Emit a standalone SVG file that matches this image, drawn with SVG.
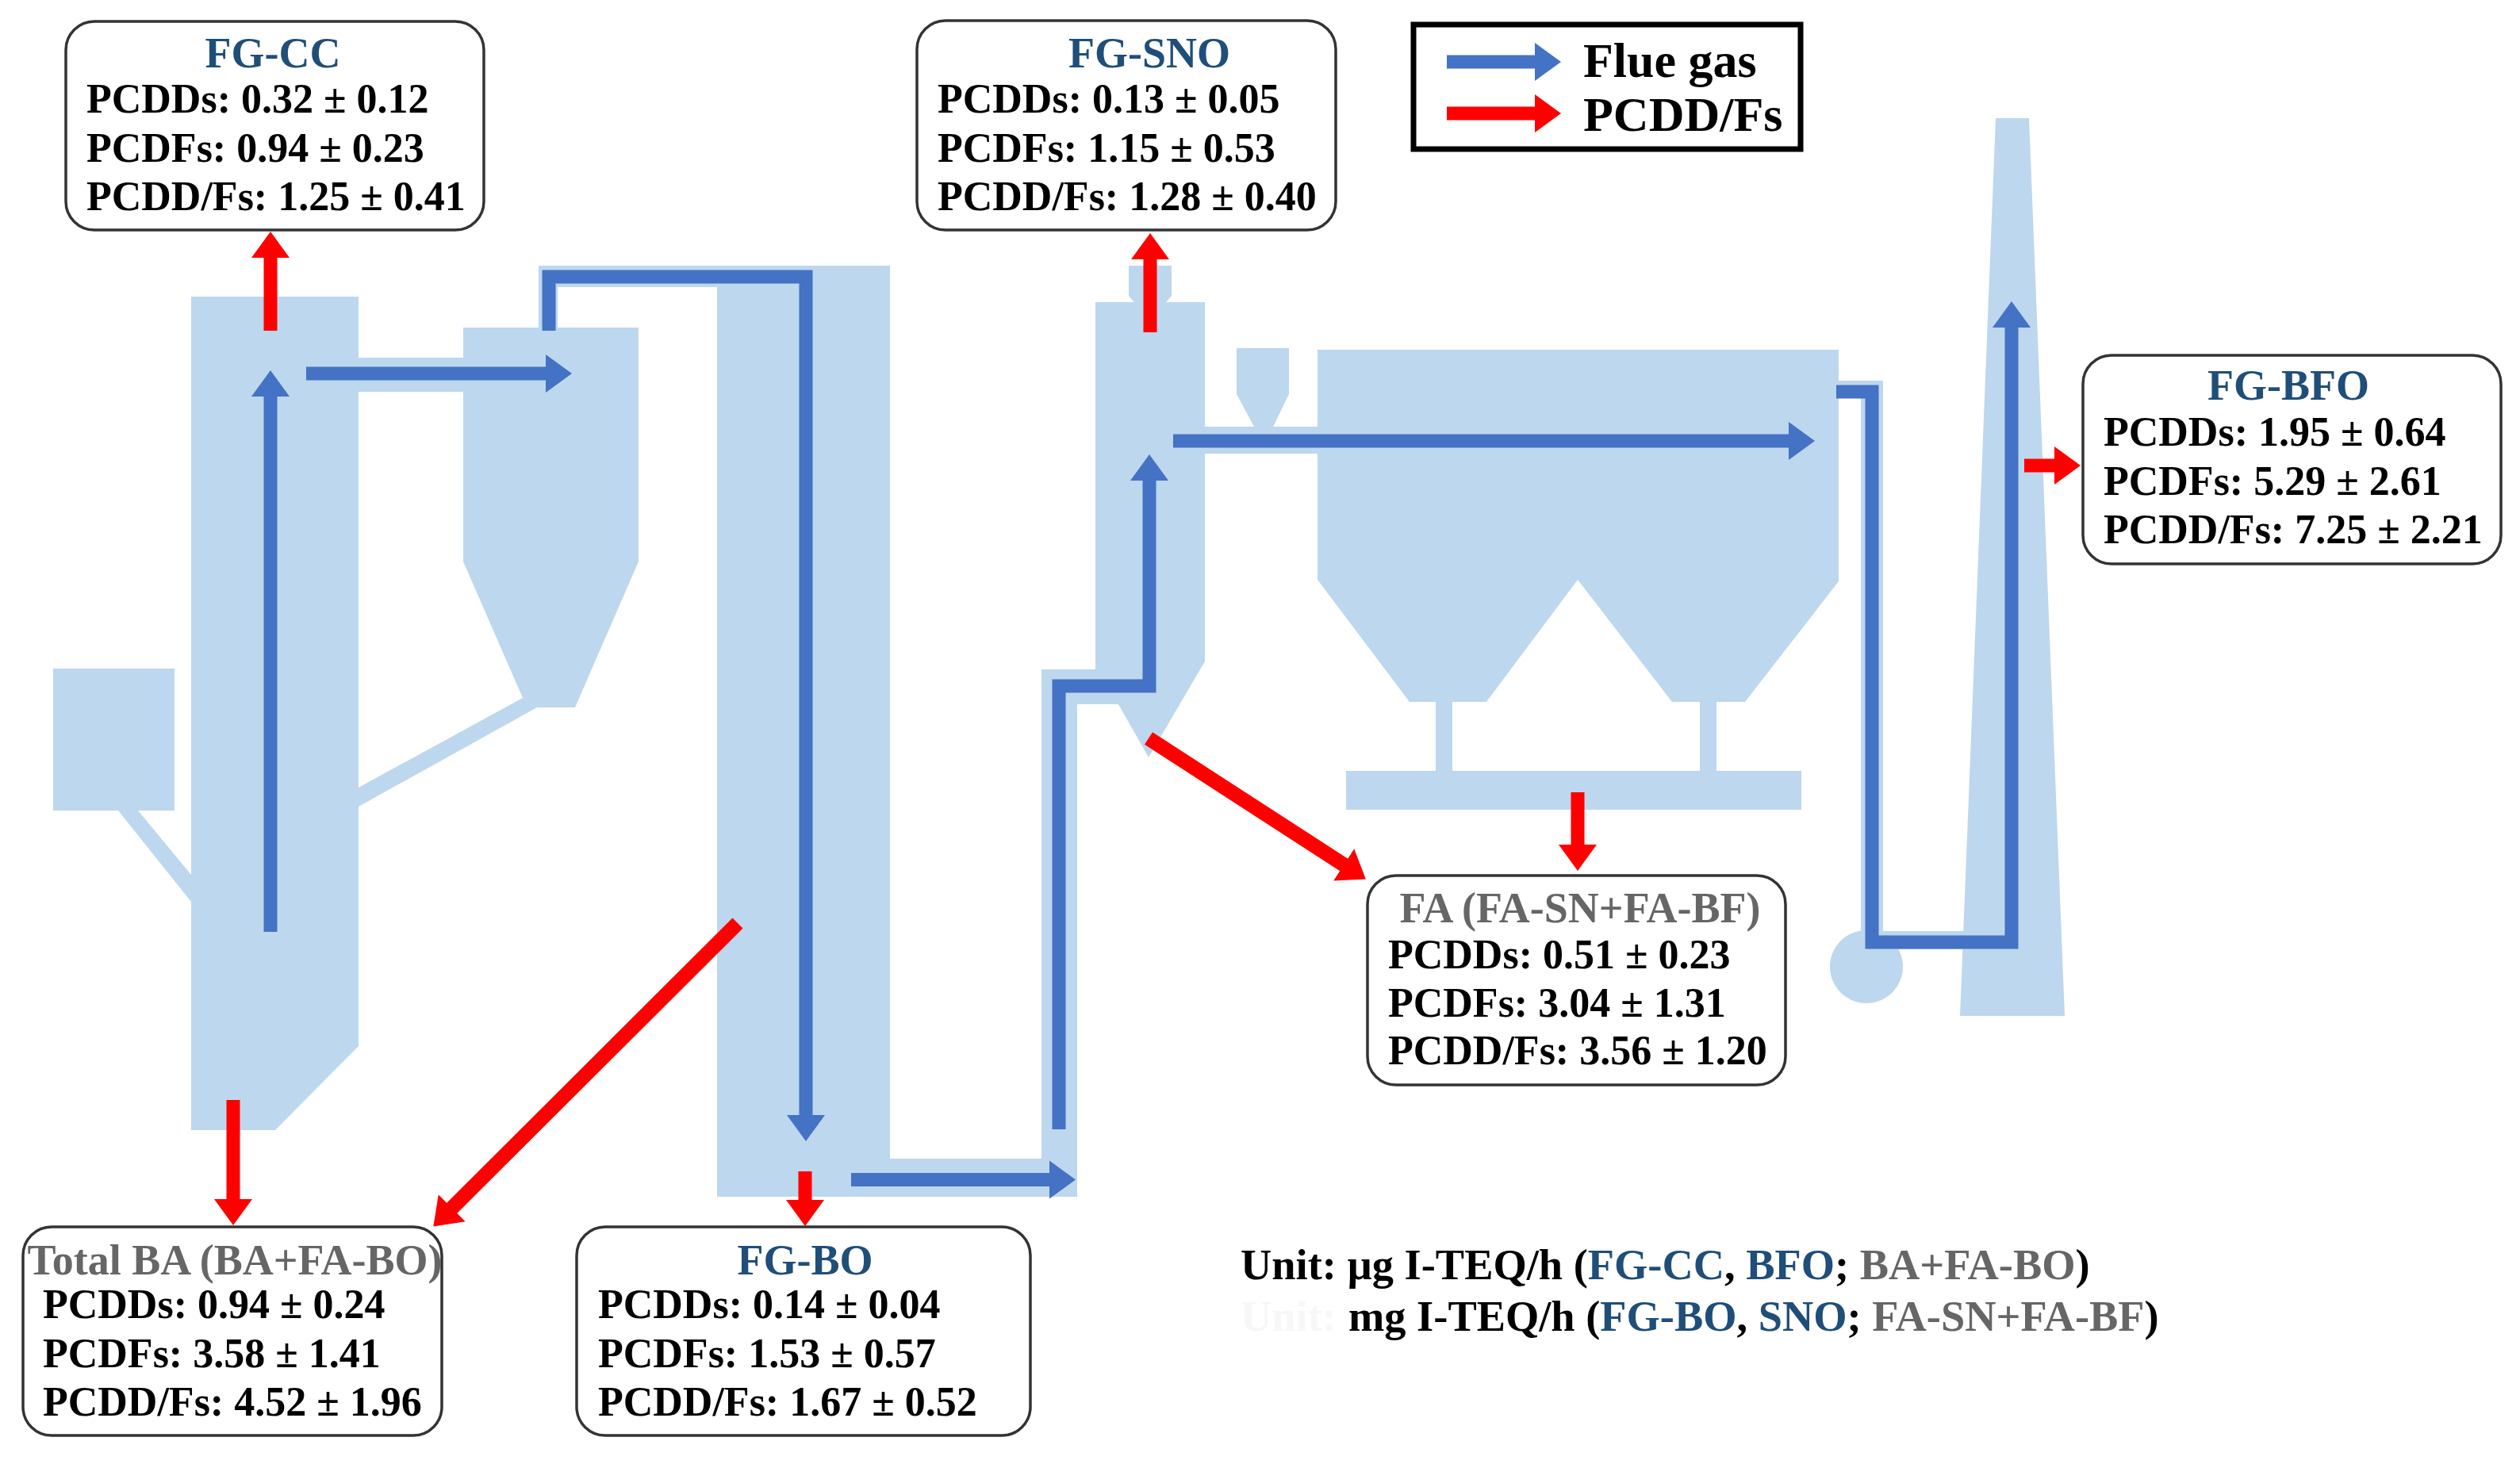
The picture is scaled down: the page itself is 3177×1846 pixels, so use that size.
<svg xmlns="http://www.w3.org/2000/svg" width="3177" height="1846" viewBox="0 0 3177 1846">
<style>
text{font-family:"Liberation Serif","Times New Roman",serif;font-weight:bold;font-size:52px;fill:#000}
.title{text-anchor:middle;fill:#1F4E79;font-size:54px}
.gray{fill:#666666}
.unit{font-size:54.400px}
.legend{font-size:62px}
.ash{fill:#666666}
.blue{fill:#1F4E79}
.box{fill:#fff;stroke:#333;stroke-width:3.5}
.eq{fill:#BDD7EE}
.flue,.pcdd,.diag{fill:none;stroke-linejoin:miter}
.flue{stroke:#4472C4;stroke-width:17}
.pcdd{stroke:#FF0000;stroke-width:17}
.diag{stroke:#FF0000;stroke-width:18.500}
.headb{marker-end:url(#hb)}
.headr{marker-end:url(#hr)}
</style>
<defs>
<marker id="hb" markerUnits="userSpaceOnUse" viewBox="0 0 34 50" markerWidth="34" markerHeight="50" refX="1" refY="25" orient="auto"><path d="M0,1 L33,25 L0,49 Z" fill="#4472C4"/></marker>
<marker id="hr" markerUnits="userSpaceOnUse" viewBox="0 0 34 50" markerWidth="34" markerHeight="50" refX="1" refY="25" orient="auto"><path d="M0,1 L33,25 L0,49 Z" fill="#FF0000"/></marker>
</defs>
<rect width="3177" height="1846" fill="#fff"/>
<g id="equipment" class="eq">
<path d="M241,374H452V1319L347,1425H241Z"/>
<rect x="452" y="451" width="132" height="43"/>
<path d="M584,413H805V708L725,892H677L452,1017V993L659,880L584,708Z"/>
<rect x="67" y="843" width="153" height="179"/>
<path d="M149,1022H174L241,1103V1137Z"/>
<path d="M679,335H1122V1461H1313V844H1381V381H1430L1423,373V335H1477V373L1470,381H1519V538H1581L1559,497V439H1625V497L1605,538H1661V441H2318V733L2200,885H2108L1989,731L1874,885H1777L1661,731V572H1519V834L1448,955L1410,888H1358V1509H904V362H703V413H679Z"/>
<rect x="1810" y="885" width="21" height="87"/>
<rect x="2143" y="885" width="21" height="87"/>
<rect x="1697" y="972" width="574" height="49"/>
<path d="M2318,480H2374V1174H2480V1197H2346V500H2318Z"/>
<circle cx="2353" cy="1219" r="46"/>
<path d="M2516,149H2558L2603,1281H2471Z"/>
</g>
<g id="connectors">
<path class="flue headb" d="M341,1175V499"/>
<path class="flue headb" d="M386,471H689"/>
<path class="flue headb" d="M692,417V349H1016V1407"/>
<path class="flue headb" d="M1073,1487.500H1324"/>
<path class="flue headb" d="M1335,1424V865H1449V605"/>
<path class="flue headb" d="M1479,556H2256"/>
<path class="flue headb" d="M2315,494H2360V1188H2536V412"/>
<path class="pcdd headr" d="M341,417V324"/>
<path class="pcdd headr" d="M1450,419V326"/>
<path class="pcdd headr" d="M2552,587H2591"/>
<path class="pcdd headr" d="M294,1387V1513"/>
<path class="pcdd headr" d="M1015,1477V1514"/>
<path class="pcdd headr" d="M1989,999V1066"/>
<path class="diag headr" d="M930,1164L569,1524"/>
<path class="diag headr" d="M1448,931L1695,1091"/>
</g>
<g id="legend">
<rect x="1782" y="31" width="488" height="157" fill="#fff" stroke="#000" stroke-width="7"/>
<path class="flue headb" d="M1824,78H1936"/>
<path class="pcdd headr" d="M1824,143H1936"/>
<text class="legend" x="1996" y="97">Flue gas</text>
<text class="legend" x="1996" y="165">PCDD/Fs</text>
</g>
<g id="fg-cc">
<rect class="box" x="83" y="27" width="527" height="263" rx="36"/>
<text class="title" x="344" y="85">FG-CC</text>
<text x="109" y="142">PCDDs: 0.32 ± 0.12</text>
<text x="109" y="204">PCDFs: 0.94 ± 0.23</text>
<text x="109" y="265">PCDD/Fs: 1.25 ± 0.41</text>
</g>
<g id="fg-sno">
<rect class="box" x="1156" y="26" width="528" height="264" rx="36"/>
<text class="title" x="1449" y="85">FG-SNO</text>
<text x="1182" y="142">PCDDs: 0.13 ± 0.05</text>
<text x="1182" y="204">PCDFs: 1.15 ± 0.53</text>
<text x="1182" y="265">PCDD/Fs: 1.28 ± 0.40</text>
</g>
<g id="fg-bfo">
<rect class="box" x="2626" y="448" width="527" height="263" rx="36"/>
<text class="title" x="2885" y="504">FG-BFO</text>
<text x="2652" y="562">PCDDs: 1.95 ± 0.64</text>
<text x="2652" y="624">PCDFs: 5.29 ± 2.61</text>
<text x="2652" y="685">PCDD/Fs: 7.25 ± 2.21</text>
</g>
<g id="total-ba">
<rect class="box" x="29" y="1547" width="528" height="263" rx="36"/>
<text class="title gray" x="296" y="1607">Total BA (BA+FA-BO)</text>
<text x="54" y="1662">PCDDs: 0.94 ± 0.24</text>
<text x="54" y="1724">PCDFs: 3.58 ± 1.41</text>
<text x="54" y="1785">PCDD/Fs: 4.52 ± 1.96</text>
</g>
<g id="fg-bo">
<rect class="box" x="727" y="1547" width="572" height="263" rx="36"/>
<text class="title" x="1015" y="1607">FG-BO</text>
<text x="754" y="1662">PCDDs: 0.14 ± 0.04</text>
<text x="754" y="1724">PCDFs: 1.53 ± 0.57</text>
<text x="754" y="1785">PCDD/Fs: 1.67 ± 0.52</text>
</g>
<g id="fa">
<rect class="box" x="1724" y="1104" width="527" height="264" rx="36"/>
<text class="title gray" x="1992" y="1163">FA (FA-SN+FA-BF)</text>
<text x="1750" y="1221">PCDDs: 0.51 ± 0.23</text>
<text x="1750" y="1282">PCDFs: 3.04 ± 1.31</text>
<text x="1750" y="1342">PCDD/Fs: 3.56 ± 1.20</text>
</g>
<g id="units">
<text class="unit" x="1564" y="1613">Unit: µg I-TEQ/h (<tspan class="blue">FG-CC</tspan>, <tspan class="blue">BFO</tspan>; <tspan class="ash">BA+FA-BO</tspan>)</text>
<text class="unit" x="1564" y="1678" style="fill:#f7f7f7">Unit:</text>
<text class="unit" x="1700" y="1678">mg I-TEQ/h (<tspan class="blue">FG-BO</tspan>, <tspan class="blue">SNO</tspan>; <tspan class="ash">FA-SN+FA-BF</tspan>)</text>
</g>
</svg>
